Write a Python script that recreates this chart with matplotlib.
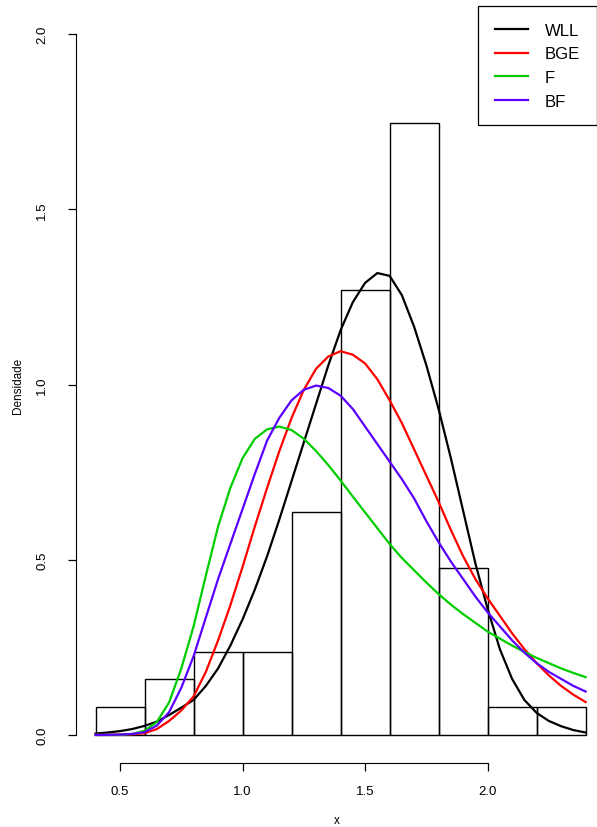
import numpy as np
import matplotlib
matplotlib.use("Agg")
import matplotlib.pyplot as plt

plt.rcParams['font.family'] = ['Liberation Sans', 'DejaVu Sans']

# histogram (counts per bin, n = 63)
bin_edges = [0.4, 0.6, 0.8, 1.0, 1.2, 1.4, 1.6, 1.8, 2.0, 2.2, 2.4]
counts = [1, 2, 3, 3, 8, 16, 22, 6, 1, 1]

# fitted densities
xs = [0.40, 0.45, 0.50, 0.55, 0.60, 0.65, 0.70, 0.75, 0.80, 0.85,
      0.90, 0.95, 1.00, 1.05, 1.10, 1.15, 1.20, 1.25, 1.30, 1.35,
      1.40, 1.45, 1.50, 1.55, 1.60, 1.65, 1.70, 1.75, 1.80, 1.85,
      1.90, 1.95, 2.00, 2.05, 2.10, 2.15, 2.20, 2.25, 2.30, 2.35, 2.40]
wll = [0.004, 0.007, 0.011, 0.017, 0.026, 0.038, 0.057, 0.078, 0.100, 0.140,
       0.190, 0.255, 0.330, 0.415, 0.510, 0.615, 0.725, 0.835, 0.945, 1.055,
       1.155, 1.235, 1.290, 1.318, 1.310, 1.255, 1.165, 1.055, 0.930, 0.790,
       0.640, 0.490, 0.360, 0.245, 0.160, 0.100, 0.063, 0.040, 0.025, 0.014, 0.007]
bge = [0.000, 0.0005, 0.001, 0.002, 0.005, 0.017, 0.040, 0.070, 0.110, 0.180,
       0.270, 0.370, 0.480, 0.595, 0.705, 0.810, 0.905, 0.985, 1.045, 1.080,
       1.095, 1.085, 1.060, 1.015, 0.955, 0.890, 0.815, 0.740, 0.665, 0.585,
       0.510, 0.445, 0.390, 0.340, 0.290, 0.245, 0.205, 0.170, 0.140, 0.115, 0.094]
f_ = [0.000, 0.000, 0.0005, 0.003, 0.012, 0.037, 0.093, 0.190, 0.310, 0.455,
      0.595, 0.705, 0.790, 0.845, 0.872, 0.880, 0.870, 0.845, 0.810, 0.770,
      0.726, 0.680, 0.635, 0.590, 0.545, 0.505, 0.470, 0.435, 0.402, 0.372,
      0.345, 0.320, 0.295, 0.275, 0.255, 0.237, 0.220, 0.205, 0.190, 0.177, 0.165]
bf = [0.000, 0.0005, 0.001, 0.003, 0.008, 0.027, 0.065, 0.135, 0.225, 0.335,
      0.445, 0.545, 0.645, 0.745, 0.840, 0.905, 0.955, 0.985, 0.997, 0.990,
      0.968, 0.930, 0.880, 0.830, 0.780, 0.730, 0.675, 0.610, 0.550, 0.495,
      0.445, 0.395, 0.350, 0.310, 0.270, 0.235, 0.205, 0.180, 0.160, 0.140, 0.124]

W, H = 597, 828
fig = plt.figure(figsize=(W / 100, H / 100), dpi=100)
ax = fig.add_axes([76 / W, 1 - 764 / H, 1 - 76 / W, (764 - 7) / H])

centers = [(a + b) / 2 for a, b in zip(bin_edges[:-1], bin_edges[1:])]
ax.hist(centers, bins=bin_edges, weights=counts, density=True,
        fill=False, edgecolor="black", linewidth=1.0)

ax.plot(xs, wll, color="black", lw=1.6, label="WLL")
ax.plot(xs, bge, color="#ff0000", lw=1.6, label="BGE")
ax.plot(xs, f_, color="#00cd00", lw=1.6, label="F")
ax.plot(xs, bf, color="#5b00ff", lw=1.6, label="BF")

ax.set_xlim(0.32, 0.32 + (W - 76) / 245)
ax.set_ylim(-0.08, 2.08)
for s in ["top", "right"]:
    ax.spines[s].set_visible(False)
ax.spines["left"].set_bounds(0, 2)
ax.spines["bottom"].set_bounds(0.5, 2.0)
ax.set_xticks([0.5, 1.0, 1.5, 2.0])
ax.set_xticklabels(["0.5", "1.0", "1.5", "2.0"])
ax.set_yticks([0.0, 0.5, 1.0, 1.5, 2.0])
ax.set_yticklabels(["0.0", "0.5", "1.0", "1.5", "2.0"], rotation=90, va="center")
ax.tick_params(length=6, width=0.9, labelsize=9.5)
ax.tick_params(axis="x", pad=10)
ax.tick_params(axis="y", pad=14)
ax.set_xlabel("x", fontsize=8.5, va="center")
ax.set_ylabel("Densidade", fontsize=8.5, va="center")
ax.xaxis.set_label_coords(0.5, -(821 - 764) / 757)
ax.yaxis.set_label_coords(-(76 - 18) / 521, 0.5)

leg = ax.legend(loc="upper right", bbox_to_anchor=(1.0, 1.0), borderaxespad=0,
                fancybox=False, framealpha=1, edgecolor="black", fontsize=12,
                handlelength=2.0, handletextpad=1.0, labelspacing=0.52,
                borderpad=1.0)
leg.get_frame().set_linewidth(0.9)

fig.savefig("out.png", dpi=100)
